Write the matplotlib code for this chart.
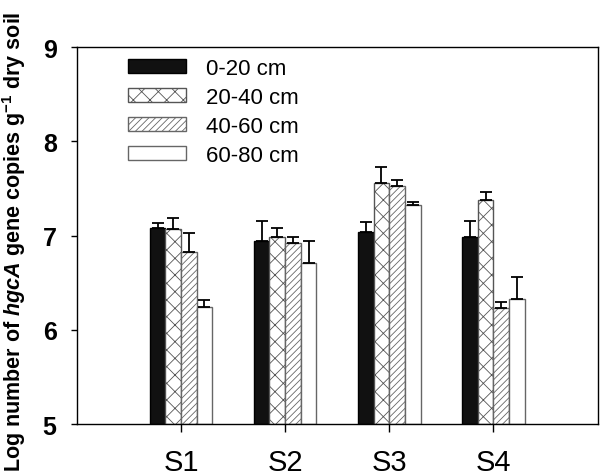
import matplotlib
matplotlib.use('Agg')
import matplotlib.pyplot as plt
import numpy as np

plt.rcParams['font.family'] = ['Liberation Sans', 'DejaVu Sans']
plt.rcParams['mathtext.fontset'] = 'custom'
plt.rcParams['mathtext.rm'] = 'Liberation Sans:bold'
plt.rcParams['mathtext.it'] = 'Liberation Sans:italic:bold'
plt.rcParams['mathtext.bf'] = 'Liberation Sans:bold'
plt.rcParams['hatch.linewidth'] = 0.6

# sites and depths
sites = ['S1', 'S2', 'S3', 'S4']
depths = ['0-20 cm', '20-40 cm', '40-60 cm', '60-80 cm']

# log copies per depth (rows) and site (columns)
means = [
    [7.08, 6.94, 7.04, 6.98],
    [7.07, 6.98, 7.56, 7.38],
    [6.83, 6.92, 7.53, 6.23],
    [6.24, 6.71, 7.32, 6.33],
]
errs = [
    [0.05, 0.21, 0.10, 0.17],
    [0.12, 0.10, 0.17, 0.08],
    [0.20, 0.06, 0.06, 0.06],
    [0.08, 0.23, 0.04, 0.23],
]

styles = [
    dict(color='#111111', edgecolor='black', hatch=None),
    dict(color='white', edgecolor='#555555', hatch='xx'),
    dict(color='white', edgecolor='#666666', hatch='/////'),
    dict(color='white', edgecolor='#666666', hatch=None),
]

fig = plt.figure(figsize=(6, 4.77), dpi=100)
ax = fig.add_axes([0.128, 0.109, 0.868, 0.790])

x = np.arange(1, len(sites) + 1)
w = 0.15
for i, (m, e, st) in enumerate(zip(means, errs, styles)):
    pos = x + (i - 1.5) * w
    ax.bar(pos, np.array(m) - 5, w, bottom=5, label=depths[i],
           color=st['color'], edgecolor=st['edgecolor'], hatch=st['hatch'],
           linewidth=1.0)
    ax.errorbar(pos, m, yerr=[np.zeros(len(e)), e], fmt='none',
                ecolor='black', elinewidth=1.3, capsize=4.5, capthick=1.3)

ax.set_xlim(0, 5)
ax.set_ylim(5, 9)
ax.set_xticks(x)
ax.set_xticklabels(sites, fontsize=21)
ax.set_yticks([5, 6, 7, 8, 9])
ax.set_yticklabels(['5', '6', '7', '8', '9'], fontsize=18, fontweight='bold')
ax.tick_params(axis='x', direction='out', length=6, width=1, pad=11)
ax.tick_params(axis='y', direction='out', length=4.5, width=1, pad=10)
for s in ax.spines.values():
    s.set_linewidth(1.0)

ax.set_ylabel(r'Log number of $\it{hgcA}$ gene copies g$^{\bf{-1}}$ dry soil',
              fontsize=15.5, fontweight='bold')
ax.yaxis.set_label_coords(-0.093, 0.485)

ax.legend(loc='upper left', bbox_to_anchor=(0.098, 0.972), frameon=False,
          fontsize=16, handlelength=2.6, handleheight=0.55,
          handletextpad=0.9, labelspacing=0.36, borderpad=0,
          borderaxespad=0)

fig.savefig('out.png', dpi=100)
